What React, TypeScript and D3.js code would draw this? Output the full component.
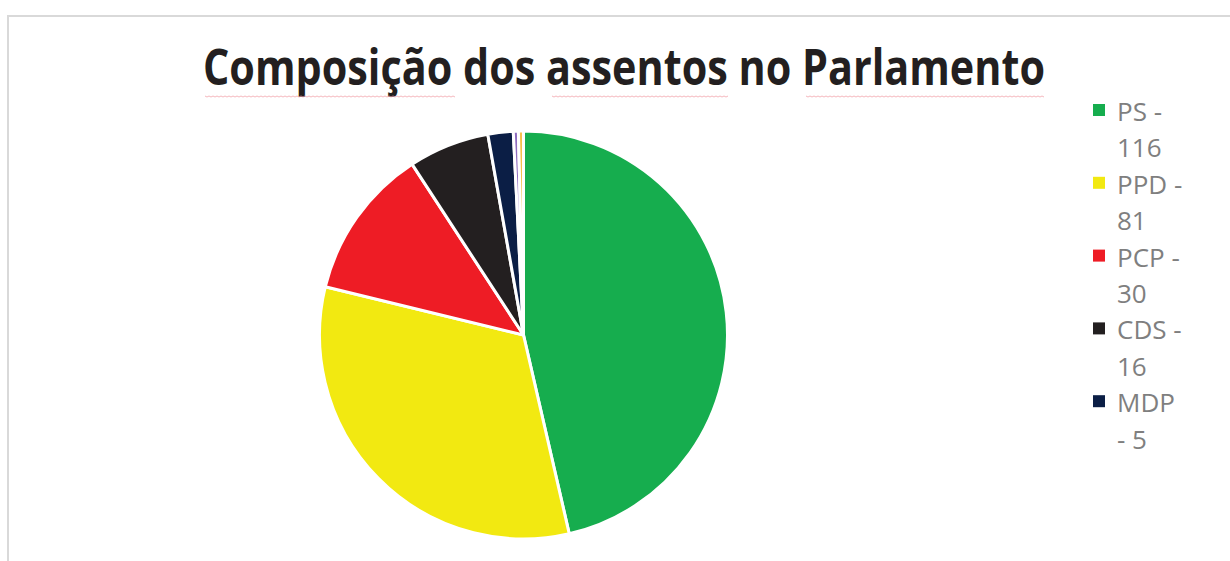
import React from "react";
import * as d3 from "d3";

const parties = ["PS", "PPD", "PCP", "CDS", "MDP", "Outro1", "Outro2"];
const seats = [116, 81, 30, 16, 5, 1, 1];
const colors = ["#16ad4e", "#f2e911", "#ee1c25", "#231f20", "#0b1e45", "#8e6cc0", "#f7c04a"];
const legendLines = [["PS -", "116"], ["PPD -", "81"], ["PCP -", "30"], ["CDS -", "16"], ["MDP", "- 5"]];
const title = "Composição dos assentos no Parlamento";

const W = 1230, H = 561;
const cx = 523.5, cy = 335, R = 204;

function squiggle(x0: number, x1: number, y: number) {
  const pts: [number, number][] = [];
  for (let x = x0, i = 0; x <= x1; x += 2, i++) pts.push([x, y + (i % 2 ? 1 : 0)]);
  return d3.line()(pts) || "";
}

export default function App() {
  const data = parties.map((p, i) => ({ p, v: seats[i], c: colors[i] }));
  const pie = d3.pie<any>().value((d) => d.v).sort(null).startAngle(0).endAngle(2 * Math.PI);
  const arc = d3.arc<any>().innerRadius(0).outerRadius(R);
  const arcs = pie(data);
  const lineStep = 36.4;
  return (
    <svg width={W} height={H} style={{ position: "fixed", left: 0, top: 0, background: "#fff" }}>
      <rect x={8} y={16} width={1400} height={800} fill="#fff" stroke="#d9d9d9" strokeWidth={2} />
      <g transform="translate(624,85) scale(1,1.163)">
        <text x={0} y={0} textAnchor="middle" fontFamily="'Open Sans', sans-serif" fontWeight={700}
          fontSize={43} fill="#231f20" textLength={842} lengthAdjust="spacingAndGlyphs">{title}</text>
      </g>
      <g stroke="#f3a6ae" strokeWidth={1} fill="none" opacity={0.8}>
        <path d={squiggle(205, 455, 96)} />
        <path d={squiggle(552, 728, 96)} />
        <path d={squiggle(806, 1045, 96)} />
      </g>
      <g transform={`translate(${cx},${cy})`}>
        {arcs.map((a, i) => (
          <path key={i} d={arc(a) || ""} fill={a.data.c} stroke="#fff" strokeWidth={3} strokeLinejoin="round" />
        ))}
      </g>
      <g fontFamily="'Open Sans', sans-serif" fontSize={26} fill="#7f7f7f">
        {legendLines.map((ls, i) => (
          <g key={i}>
            <rect x={1093} y={104 + i * 2 * lineStep} width={12} height={12} fill={colors[i]} />
            {ls.map((t, j) => (
              <text key={j} x={1117} y={121 + (i * 2 + j) * lineStep}>{t}</text>
            ))}
          </g>
        ))}
      </g>
    </svg>
  );
}
